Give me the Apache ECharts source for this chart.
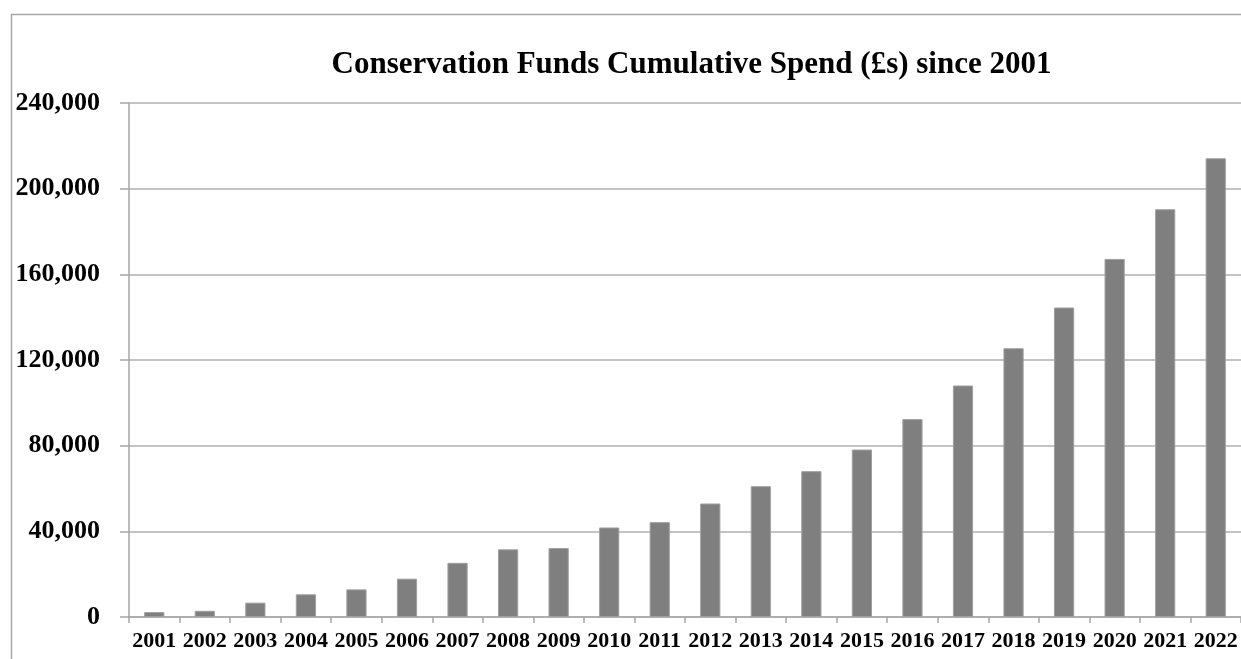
<!DOCTYPE html>
<html>
<head>
<meta charset="utf-8">
<script src="https://cdn.jsdelivr.net/npm/echarts@6/dist/echarts.min.js"></script>
<style>
html,body{margin:0;padding:0;background:#fff;}
#c{width:1241px;height:659px;}
</style>
</head>
<body>
<div id="c"></div>
<script>
var titleText = 'Conservation Funds Cumulative Spend (£s) since 2001';
var years = ['2001','2002','2003','2004','2005','2006','2007','2008','2009','2010','2011','2012','2013','2014','2015','2016','2017','2018','2019','2020','2021','2022'];
var spend = [2300, 2900, 6700, 10600, 12900, 17900, 25300, 31600, 32200, 41800, 44300, 53000, 61100, 68100, 78200, 92400, 108100, 125500, 144500, 167200, 190400, 214200];
var yTicks = [0, 40000, 80000, 120000, 160000, 200000, 240000];

var chart = echarts.init(document.getElementById('c'));
var fontFam = '"Liberation Serif", "DejaVu Serif", serif';
chart.setOption({
  animation: false,
  backgroundColor: '#ffffff',
  graphic: [{
    type: 'rect',
    shape: {x: 11.5, y: 14.5, width: 1400, height: 800},
    style: {fill: 'none', stroke: '#a6a6a6', lineWidth: 1.5},
    silent: true
  }],
  title: {
    text: titleText,
    left: 686.5,
    textAlign: 'center',
    top: 44,
    textStyle: {fontFamily: fontFam, fontWeight: 'bold', fontSize: 31, color: '#000'}
  },
  grid: {left: 129, top: 103, right: -3, bottom: 42, containLabel: false},
  xAxis: {
    type: 'category',
    data: years,
    boundaryGap: true,
    axisLine: {show: true, lineStyle: {color: '#a6a6a6', width: 1.5}},
    axisTick: {show: true, length: 6, lineStyle: {color: '#a6a6a6', width: 1.5}},
    axisLabel: {fontFamily: fontFam, fontWeight: 'bold', fontSize: 22, color: '#000', margin: 13, interval: 0}
  },
  yAxis: {
    type: 'value',
    min: yTicks[0],
    max: yTicks[yTicks.length - 1],
    interval: yTicks[1] - yTicks[0],
    axisLine: {show: true, lineStyle: {color: '#a6a6a6', width: 1.5}},
    axisTick: {show: true, length: 9, lineStyle: {color: '#a6a6a6', width: 1.5}},
    splitLine: {show: true, lineStyle: {color: '#b0b0b0', width: 1.5}},
    axisLabel: {
      fontFamily: fontFam, fontWeight: 'bold', fontSize: 26, color: '#000', margin: 29,
      formatter: function (v) { return v.toLocaleString('en-US'); }
    }
  },
  series: [{
    type: 'bar',
    data: spend,
    barWidth: '40%',
    itemStyle: {color: '#7f7f7f', borderColor: '#a0a0a0', borderWidth: 1}
  }]
});
</script>
</body>
</html>
